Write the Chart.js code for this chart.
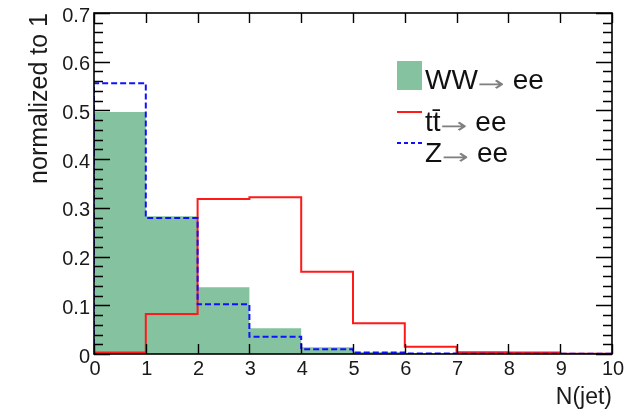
<html>
<head>
<script src="https://cdn.jsdelivr.net/npm/chart.js@4.4.3/dist/chart.umd.min.js"></script>
<style>
  body { margin: 0; background: #fff; }
</style>
</head>
<body>
<canvas id="njet" width="628" height="411"></canvas>
<script>
    // jet multiplicity, each sample normalized to 1
    const binEdges = [0, 1, 2, 3, 4, 5, 6, 7, 8, 9, 10];
    const wwEE = [0.497, 0.283, 0.137, 0.053, 0.014, 0.004, 0.001, 0, 0, 0];
    const ttEE = [0.003, 0.082, 0.318, 0.322, 0.169, 0.063, 0.015, 0.0035, 0.003, 0.0003];
    const zEE = [0.556, 0.279, 0.102, 0.0355, 0.01, 0.003, 0.001, 0.0005, 0.0005, 0.0005];

    const xTicks = [0, 1, 2, 3, 4, 5, 6, 7, 8, 9, 10];
    const xTickLabels = ['0', '1', '2', '3', '4', '5', '6', '7', '8', '9', '10'];
    const yTicks = [0, 0.1, 0.2, 0.3, 0.4, 0.5, 0.6, 0.7];
    const yTickLabels = ['0', '0.1', '0.2', '0.3', '0.4', '0.5', '0.6', '0.7'];
    const yMinorStep = 0.02;

    const legendNames = ['WW→ ee', 'tt̄→ ee', 'Z→ ee'];
    const xTitle = 'N(jet)';
    const yTitle = 'normalized to 1';

    const GREEN = 'rgb(132,194,160)';
    const RED = '#ff1a1a';
    const BLUE = '#1010ff';
    const FONT = '"Liberation Sans", Arial, sans-serif';

    // histogram outline: start and end on the axis, one step per bin
    function histPoints(vals) {
        let pts = [{x: binEdges[0], y: 0}];
        vals.forEach((v, i) => pts.push({x: binEdges[i], y: v}));
        pts.push({x: binEdges[binEdges.length - 1], y: vals[vals.length - 1]});
        pts.push({x: binEdges[binEdges.length - 1], y: 0});
        return pts;
    }

    // frame, inward ticks, labels, titles and legend
    const frameAndLegend = {
        id: 'frameAndLegend',
        afterDatasetsDraw(chart) {
            const ctx = chart.ctx;
            const a = chart.chartArea;
            const xs = chart.scales.x, ys = chart.scales.y;
            ctx.save();
            ctx.strokeStyle = '#000';
            ctx.lineWidth = 1.6;
            ctx.setLineDash([]);
            ctx.strokeRect(a.left, a.top, a.right - a.left, a.bottom - a.top);

            ctx.beginPath();
            xTicks.forEach(t => {
                const px = Math.round(xs.getPixelForValue(t)) + 0.5;
                ctx.moveTo(px, a.bottom); ctx.lineTo(px, a.bottom - 10);
                ctx.moveTo(px, a.top); ctx.lineTo(px, a.top + 10);
            });
            const nMinor = Math.round(0.7 / yMinorStep);
            for (let i = 0; i <= nMinor; i++) {
                const v = i * yMinorStep;
                const py = Math.round(ys.getPixelForValue(v)) + 0.5;
                const len = (i % 5 === 0) ? 16 : 9;
                ctx.moveTo(a.left, py); ctx.lineTo(a.left + len, py);
                ctx.moveTo(a.right, py); ctx.lineTo(a.right - len, py);
            }
            ctx.lineWidth = 1.4;
            ctx.stroke();

            ctx.fillStyle = '#1a1a1a';
            ctx.font = '20px ' + FONT;
            ctx.textAlign = 'right';
            ctx.textBaseline = 'middle';
            yTicks.forEach((t, i) => {
                ctx.fillText(yTickLabels[i], a.left - 4, ys.getPixelForValue(t) + 3);
            });
            ctx.textAlign = 'center';
            ctx.textBaseline = 'top';
            xTicks.forEach((t, i) => {
                ctx.fillText(xTickLabels[i], xs.getPixelForValue(t) + 1, a.bottom + 5);
            });

            ctx.font = '23px ' + FONT;
            ctx.textAlign = 'right';
            ctx.textBaseline = 'alphabetic';
            ctx.fillText(xTitle, a.right, 404);

            ctx.save();
            ctx.translate(47, a.top);
            ctx.rotate(-Math.PI / 2);
            ctx.font = '25px ' + FONT;
            ctx.textAlign = 'right';
            ctx.fillText(yTitle, 0, 0);
            ctx.restore();

            // legend entries
            const rows = [
                {base: 89, kind: 'box', color: GREEN},
                {base: 131, kind: 'line', color: RED},
                {base: 162, kind: 'dash', color: BLUE}
            ];
            ctx.textAlign = 'left';
            rows.forEach((r, i) => {
                if (r.kind === 'box') {
                    ctx.fillStyle = r.color;
                    ctx.fillRect(397, 61, 25, 29);
                } else {
                    ctx.strokeStyle = r.color;
                    ctx.lineWidth = 2;
                    ctx.setLineDash(r.kind === 'dash' ? [4, 3] : []);
                    ctx.beginPath();
                    ctx.moveTo(397, r.base - 19);
                    ctx.lineTo(422, r.base - 19);
                    ctx.stroke();
                    ctx.setLineDash([]);
                }
                const parts = legendNames[i].split('→');
                let x = 425;
                ctx.font = '28px ' + FONT;
                ctx.fillStyle = '#111';
                ctx.fillText(parts[0], x, r.base);
                x += ctx.measureText(parts[0]).width;
                // thin, wide arrow
                ctx.font = '26px "DejaVu Sans", sans-serif';
                ctx.fillStyle = '#808080';
                const aw = ctx.measureText('→').width;
                ctx.save();
                ctx.translate(x, r.base + 2);
                ctx.scale(27 / aw, 0.8);
                ctx.fillText('→', 0, 0);
                ctx.restore();
                x += 27;
                ctx.font = '28px ' + FONT;
                ctx.fillStyle = '#111';
                ctx.fillText(parts[1], x, r.base);
            });
            ctx.restore();
        }
    };

    new Chart(document.getElementById('njet'), {
        type: 'line',
        data: {
            datasets: [
                {
                    label: 'Z→ ee',
                    data: histPoints(zEE),
                    borderColor: BLUE,
                    borderWidth: 2,
                    borderDash: [6, 3],
                    stepped: true,
                    fill: false,
                    pointRadius: 0,
                    order: 0
                },
                {
                    label: 'tt̄→ ee',
                    data: histPoints(ttEE),
                    borderColor: RED,
                    borderWidth: 2,
                    stepped: true,
                    fill: false,
                    pointRadius: 0,
                    order: 1
                },
                {
                    label: 'WW→ ee',
                    data: histPoints(wwEE),
                    borderColor: 'rgba(0,0,0,0)',
                    backgroundColor: GREEN,
                    borderWidth: 0,
                    stepped: true,
                    fill: 'origin',
                    pointRadius: 0,
                    order: 2
                }
            ]
        },
        options: {
            responsive: false,
            animation: false,
            layout: {padding: {left: 94, top: 13, right: 16, bottom: 57}},
            plugins: {legend: {display: false}, tooltip: {enabled: false}},
            scales: {
                x: {type: 'linear', min: 0, max: 10, display: false},
                y: {min: 0, max: 0.7, display: false}
            }
        },
        plugins: [frameAndLegend]
    });
</script>
</body>
</html>
